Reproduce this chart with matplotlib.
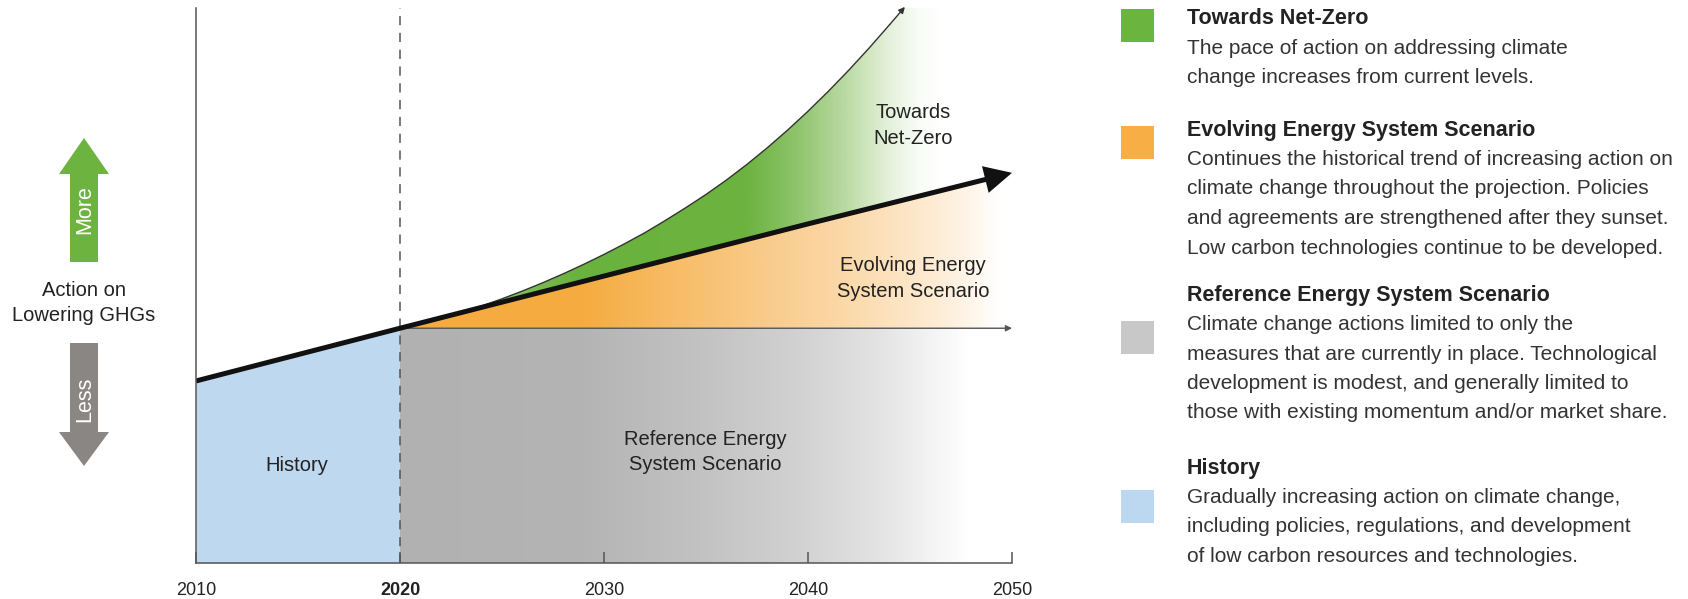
import numpy as np
import matplotlib
matplotlib.use("Agg")
import matplotlib.pyplot as plt
from matplotlib.colors import LinearSegmentedColormap
from matplotlib.patches import Polygon, Rectangle

plt.rcParams['font.family'] = ['Liberation Sans', 'DejaVu Sans']

# --- data (index of "action on lowering GHGs", 0-100) ---
hist_years = [2010, 2020]
hist_vals = [32.8, 42.3]

evolving_years = [2020, 2030, 2040, 2050]
evolving_vals = [42.3, 51.7, 61.1, 70.3]

reference_years = [2020, 2050]
reference_vals = [42.3, 42.3]

netzero_years = [2020, 2021, 2022, 2023, 2024, 2025, 2026, 2027, 2028, 2029, 2030, 2031,
                 2032, 2033, 2034, 2035, 2036, 2037, 2038, 2039, 2040, 2041, 2042, 2043,
                 2044, 2044.75]
netzero_vals = [42.3, 43.25, 44.2, 45.2, 46.3, 47.6, 49.0, 50.5, 52.1, 53.8, 55.6, 57.5,
                59.5, 61.7, 64.0, 66.4, 69.0, 71.8, 74.8, 78.0, 81.4, 85.0, 88.8, 92.8,
                97.0, 100.2]

tick_years = [2010, 2020, 2030, 2040, 2050]

legend_titles = ["Towards Net-Zero", "Evolving Energy System Scenario",
                 "Reference Energy System Scenario", "History"]
legend_body = [
    ["The pace of action on addressing climate",
     "change increases from current levels."],
    ["Continues the historical trend of increasing action on",
     "climate change throughout the projection. Policies",
     "and agreements are strengthened after they sunset.",
     "Low carbon technologies continue to be developed."],
    ["Climate change actions limited to only the",
     "measures that are currently in place. Technological",
     "development is modest, and generally limited to",
     "those with existing momentum and/or market share."],
    ["Gradually increasing action on climate change,",
     "including policies, regulations, and development",
     "of low carbon resources and technologies."],
]
legend_colors = ['#6bb43f', '#f7ae44', '#c8c8c8', '#bcd8f0']

W, H = 1688, 599
fig = plt.figure(figsize=(W / 100, H / 100), dpi=100)
ax = fig.add_axes([196 / W, (H - 563) / H, (1012 - 196) / W, (563 - 8) / H])
ax.set_xlim(2010, 2050)
ax.set_ylim(0, 100)


def grad_fill(verts, stops):
    cmap = LinearSegmentedColormap.from_list(
        'g', [((y - 2020) / 30, c) for y, c in stops])
    poly = Polygon(verts, closed=True, facecolor='none', edgecolor='none')
    ax.add_patch(poly)
    im = ax.imshow(np.linspace(0, 1, 600)[None, :], cmap=cmap, aspect='auto',
                   extent=[2020, 2050, 0, 100], origin='lower', zorder=1,
                   interpolation='bilinear')
    im.set_clip_path(poly)


# history
ax.fill_between(hist_years, 0, hist_vals, color='#bed8f0', lw=0, zorder=1)

# reference (grey) area
ref_verts = list(zip(reference_years, reference_vals)) + [(2050, 0), (2020, 0)]
grad_fill(ref_verts,
          [(2020, '#b1b1b1'), (2029, '#b4b4b4'), (2035, '#c3c3c3'), (2040, '#d3d3d3'),
           (2043.5, '#e3e3e3'), (2046, '#f3f3f3'), (2048, '#ffffff'), (2050, '#ffffff')])

# evolving (orange) area: between reference level and trend line
ev_verts = list(zip(evolving_years, evolving_vals)) + list(zip(reference_years[::-1], reference_vals[::-1]))
grad_fill(ev_verts,
          [(2020, '#f5ab3f'), (2029, '#f5ac41'), (2033, '#f7bb62'), (2038, '#f9cb8b'),
           (2042, '#fbd9aa'), (2045, '#fde6c7'), (2047.5, '#fef2e2'), (2049.5, '#ffffff'),
           (2050, '#ffffff')])

# towards net-zero (green) area: right of / below the curve, above trend line
nz_verts = (list(zip(netzero_years, netzero_vals)) + [(2050, 100)]
            + list(zip(evolving_years[::-1], evolving_vals[::-1])))
grad_fill(nz_verts,
          [(2020, '#a4d286'), (2025, '#88c160'), (2028.5, '#6ab23e'), (2037, '#6cb340'),
           (2039.5, '#8fc46c'), (2042, '#bcdba6'), (2044, '#e4f1da'), (2045.5, '#f9fcf7'),
           (2046.5, '#ffffff'), (2050, '#ffffff')])

# 2020 divider
ax.axvline(2020, color='#555555', lw=1.1, ls=(0, (6, 5)), zorder=3)

# net-zero outline with arrow
ax.plot(netzero_years[:-1], netzero_vals[:-1], color='#333333', lw=1.0, zorder=4)
ax.annotate('', xy=(netzero_years[-1], netzero_vals[-1]),
            xytext=(netzero_years[-2], netzero_vals[-2]),
            arrowprops=dict(arrowstyle='-|>', color='#333333', lw=1.0,
                            mutation_scale=9, shrinkA=0, shrinkB=0),
            annotation_clip=False, zorder=4)

# reference arrow
ax.annotate('', xy=(reference_years[-1], reference_vals[-1]),
            xytext=(reference_years[0], reference_vals[0]),
            arrowprops=dict(arrowstyle='-|>', color='#555555', lw=1.0,
                            mutation_scale=9, shrinkA=0, shrinkB=0),
            annotation_clip=False, zorder=4)

# main trend line (history + evolving)
ax.plot(hist_years + evolving_years[1:-1] + [2048.8],
        hist_vals + evolving_vals[1:-1] + [np.interp(2048.8, evolving_years, evolving_vals)],
        color='#111111', lw=3.6, zorder=5, solid_capstyle='butt')
ax.annotate('', xy=(evolving_years[-1], evolving_vals[-1]),
            xytext=(2048.3, np.interp(2048.3, evolving_years, evolving_vals)),
            arrowprops=dict(arrowstyle='-|>,head_length=0.9,head_width=0.45',
                            color='#111111', lw=0, mutation_scale=22,
                            shrinkA=0, shrinkB=0),
            annotation_clip=False, zorder=6)

# in-chart labels
lab = dict(fontsize=14.5, color='#222222', ha='center', va='center', linespacing=1.45, zorder=7)
ax.text(2045.15, 78.8, "Towards\nNet-Zero", **lab)
ax.text(2045.15, 51.2, "Evolving Energy\nSystem Scenario", **lab)
ax.text(2034.95, 20.0, "Reference Energy\nSystem Scenario", **lab)
ax.text(2014.95, 17.6, "History", **lab)

# axes styling
for s in ['top', 'right']:
    ax.spines[s].set_visible(False)
for s in ['left', 'bottom']:
    ax.spines[s].set_color('#555555')
    ax.spines[s].set_linewidth(1.1)
    ax.spines[s].set_zorder(8)
ax.set_yticks([])
ax.set_xticks(tick_years)
ax.set_xticklabels([str(y) for y in tick_years])
ax.tick_params(axis='x', direction='in', length=8, width=1.1, color='#555555',
               labelsize=13, labelcolor='#222222', pad=14)
ax.get_xticklabels()[1].set_fontweight('bold')

# overlay in pixel coordinates for side annotations and legend
ov = fig.add_axes([0, 0, 1, 1])
ov.set_xlim(0, W)
ov.set_ylim(H, 0)
ov.axis('off')
ov.patch.set_visible(False)

up = [(70, 262), (70, 174), (59, 174), (84, 138), (109, 174), (98, 174), (98, 262)]
down = [(70, 343), (70, 432), (59, 432), (84, 466), (109, 432), (98, 432), (98, 343)]
ov.add_patch(Polygon(up, closed=True, facecolor='#6cb33f', edgecolor='none'))
ov.add_patch(Polygon(down, closed=True, facecolor='#8a8683', edgecolor='none'))
ov.text(85, 210, "More", rotation=90, color='white', fontsize=15.5, ha='center', va='center')
ov.text(85, 399, "Less", rotation=90, color='white', fontsize=15.5, ha='center', va='center')
ov.text(84, 303, "Action on\nLowering GHGs", fontsize=14.5, color='#222222',
        ha='center', va='center', linespacing=1.35)

title_y = [19, 130.5, 295.5, 468.5]
square_y = [25, 142.5, 337, 506.5]
for t, body, c, ty, sy in zip(legend_titles, legend_body, legend_colors, title_y, square_y):
    ov.add_patch(Rectangle((1121, sy - 16.5), 33, 33, facecolor=c, edgecolor='none'))
    ov.text(1187, ty, t, fontsize=15.5, fontweight='bold', color='#222222', va='center')
    for i, line in enumerate(body):
        ov.text(1187, ty + 29 + 29.5 * i, line, fontsize=15, color='#333333', va='center')

fig.savefig('out.png', dpi=100)
